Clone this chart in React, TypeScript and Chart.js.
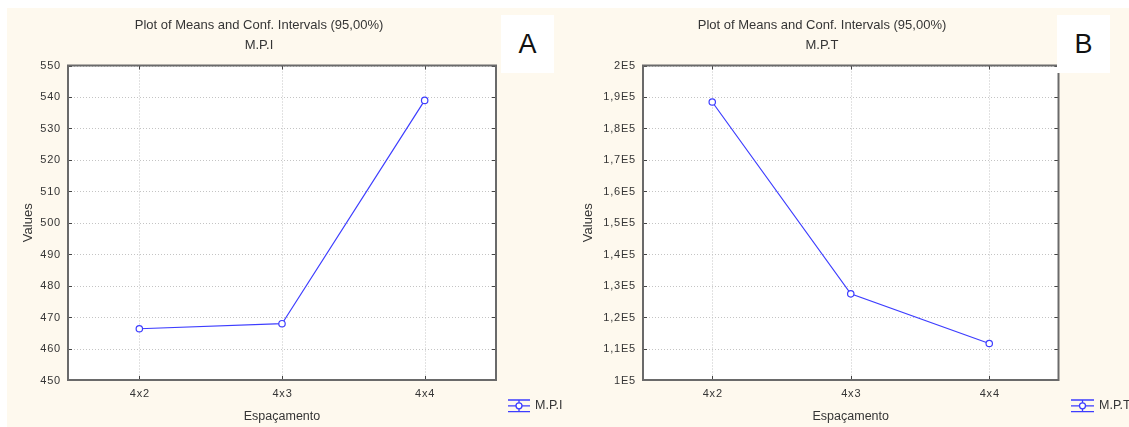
import React, { useEffect, useRef } from 'react';
import { Chart, registerables } from 'chart.js';

Chart.register(...registerables);

// ---- data ----
const categories = ['4x2', '4x3', '4x4'];
const mpiValues = [466.3, 467.9, 538.9];
const mptValues = [188400, 127400, 111600];
const yTicksA = [450, 460, 470, 480, 490, 500, 510, 520, 530, 540, 550];
const yTickLabelsA = ['450', '460', '470', '480', '490', '500', '510', '520', '530', '540', '550'];
const yTicksB = [100000, 110000, 120000, 130000, 140000, 150000, 160000, 170000, 180000, 190000, 200000];
const yTickLabelsB = ['1E5', '1,1E5', '1,2E5', '1,3E5', '1,4E5', '1,5E5', '1,6E5', '1,7E5', '1,8E5', '1,9E5', '2E5'];
const chartTitle = 'Plot of Means and Conf. Intervals (95,00%)';
const xAxisTitle = 'Espaçamento';
const yAxisTitle = 'Values';
const seriesNameA = 'M.P.I';
const seriesNameB = 'M.P.T';

const W = 1129;
const H = 427;
const LINE = '#3d3dff';
const TEXT = '#353535';
const FONT = "'Liberation Sans', Arial, sans-serif";

type Panel = {
  area: { left: number; right: number; top: number; bottom: number };
  titleX: number;
  series: string;
  values: number[];
  ticks: number[];
  tickLabels: string[];
  yTitleX: number;
  legendX0: number;
  legendX1: number;
  legendTextX: number;
};

const panelA: Panel = {
  area: { left: 68, right: 496, top: 65.5, bottom: 380 },
  titleX: 259,
  series: seriesNameA,
  values: mpiValues,
  ticks: yTicksA,
  tickLabels: yTickLabelsA,
  yTitleX: 28,
  legendX0: 508,
  legendX1: 530,
  legendTextX: 535,
};

const panelB: Panel = {
  area: { left: 643, right: 1058.5, top: 65.5, bottom: 380 },
  titleX: 822,
  series: seriesNameB,
  values: mptValues,
  ticks: yTicksB,
  tickLabels: yTickLabelsB,
  yTitleX: 588,
  legendX0: 1071,
  legendX1: 1094,
  legendTextX: 1099,
};

const Y_AXIS_W = 40;
const X_AXIS_H = 20;

function makePlugin(p: Panel) {
  return {
    id: 'panelDeco',
    beforeDatasetsDraw(chart: any) {
      const ctx = chart.ctx as CanvasRenderingContext2D;
      const { left, right, top, bottom } = chart.chartArea;
      const xs = chart.scales.x;
      const ys = chart.scales.y;
      ctx.save();
      ctx.fillStyle = '#ffffff';
      ctx.fillRect(left, top, right - left, bottom - top);
      // dotted grid
      ctx.strokeStyle = '#c4c4c4';
      ctx.lineWidth = 1;
      ctx.setLineDash([1, 2]);
      p.ticks.forEach((t) => {
        const y = Math.round(ys.getPixelForValue(t)) + 0.5;
        ctx.beginPath();
        ctx.moveTo(left, y);
        ctx.lineTo(right, y);
        ctx.stroke();
      });
      categories.forEach((_, i) => {
        const x = Math.round(xs.getPixelForValue(i)) + 0.5;
        ctx.beginPath();
        ctx.moveTo(x, top);
        ctx.lineTo(x, bottom);
        ctx.stroke();
      });
      ctx.setLineDash([]);
      // inward ticks
      ctx.strokeStyle = '#444';
      ctx.lineWidth = 1;
      p.ticks.forEach((t) => {
        const y = Math.round(ys.getPixelForValue(t)) + 0.5;
        ctx.beginPath();
        ctx.moveTo(left, y);
        ctx.lineTo(left + 4, y);
        ctx.moveTo(right, y);
        ctx.lineTo(right - 4, y);
        ctx.stroke();
      });
      categories.forEach((_, i) => {
        const x = Math.round(xs.getPixelForValue(i)) + 0.5;
        ctx.beginPath();
        ctx.moveTo(x, top);
        ctx.lineTo(x, top + 4);
        ctx.moveTo(x, bottom);
        ctx.lineTo(x, bottom - 4);
        ctx.stroke();
      });
      // border
      ctx.strokeStyle = '#6a6a6a';
      ctx.lineWidth = 2;
      ctx.strokeRect(left, top, right - left, bottom - top);
      ctx.restore();
    },
    afterDraw(chart: any) {
      const ctx = chart.ctx as CanvasRenderingContext2D;
      const { left, right, top, bottom } = chart.chartArea;
      const xs = chart.scales.x;
      const ys = chart.scales.y;
      ctx.save();
      ctx.fillStyle = TEXT;
      // titles
      ctx.textAlign = 'center';
      ctx.textBaseline = 'middle';
      ctx.font = `13px ${FONT}`;
      ctx.fillText(chartTitle, p.titleX, 25);
      ctx.fillText(p.series, p.titleX, 45);
      // y tick labels
      (ctx as any).letterSpacing = '0.8px';
      ctx.font = `11px ${FONT}`;
      ctx.textAlign = 'right';
      p.ticks.forEach((t, i) => {
        ctx.fillText(p.tickLabels[i], left - 7, ys.getPixelForValue(t) + 0.5);
      });
      // x tick labels
      ctx.textAlign = 'center';
      categories.forEach((c, i) => {
        ctx.fillText(c, xs.getPixelForValue(i) + 0.5, 393.5);
      });
      (ctx as any).letterSpacing = '0px';
      // axis titles
      ctx.font = `12.5px ${FONT}`;
      ctx.fillText(xAxisTitle, (left + right) / 2, 416.5);
      ctx.save();
      ctx.translate(p.yTitleX, (top + bottom) / 2);
      ctx.rotate(-Math.PI / 2);
      ctx.font = `13px ${FONT}`;
      ctx.fillText(yAxisTitle, 0, 0);
      ctx.restore();
      // legend
      const cy = 405.8;
      const x0 = p.legendX0;
      const x1 = p.legendX1;
      const cx = (x0 + x1) / 2;
      ctx.strokeStyle = LINE;
      ctx.lineWidth = 1.3;
      ctx.beginPath();
      ctx.moveTo(x0, 400);
      ctx.lineTo(x1, 400);
      ctx.moveTo(x0, 411.7);
      ctx.lineTo(x1, 411.7);
      ctx.moveTo(x0, cy);
      ctx.lineTo(x1, cy);
      ctx.moveTo(cx, 400);
      ctx.lineTo(cx, 411.7);
      ctx.stroke();
      ctx.beginPath();
      ctx.fillStyle = '#ffffff';
      ctx.arc(cx, cy, 3, 0, Math.PI * 2);
      ctx.fill();
      ctx.stroke();
      ctx.fillStyle = TEXT;
      ctx.textAlign = 'left';
      ctx.font = `12.5px ${FONT}`;
      ctx.fillText(p.series, p.legendTextX, 405.5);
      ctx.restore();
    },
  };
}

function PanelChart({ p }: { p: Panel }) {
  const ref = useRef<HTMLCanvasElement | null>(null);
  useEffect(() => {
    if (!ref.current) return;
    const zeroPad = (s: any) => {
      s.paddingTop = 0;
      s.paddingBottom = 0;
      s.paddingLeft = 0;
      s.paddingRight = 0;
    };
    const chart = new Chart(ref.current, {
      type: 'line',
      data: {
        labels: categories,
        datasets: [
          {
            label: p.series,
            data: p.values,
            borderColor: LINE,
            borderWidth: 1.2,
            pointRadius: 3.2,
            pointBorderWidth: 1.2,
            pointBackgroundColor: '#ffffff',
            pointBorderColor: LINE,
            tension: 0,
            clip: false as any,
          },
        ],
      },
      options: {
        animation: false,
        responsive: false,
        events: [],
        layout: {
          padding: {
            left: p.area.left - Y_AXIS_W,
            right: W - p.area.right,
            top: p.area.top,
            bottom: H - p.area.bottom - X_AXIS_H,
          },
        },
        plugins: {
          legend: { display: false },
          title: { display: false },
          tooltip: { enabled: false },
        },
        scales: {
          x: {
            type: 'category',
            offset: true,
            grid: { display: false },
            border: { display: false },
            ticks: { display: false },
            afterFit: (s: any) => {
              s.height = X_AXIS_H;
              zeroPad(s);
            },
          },
          y: {
            type: 'linear',
            min: p.ticks[0],
            max: p.ticks[p.ticks.length - 1],
            grid: { display: false },
            border: { display: false },
            ticks: { display: false },
            afterFit: (s: any) => {
              s.width = Y_AXIS_W;
              zeroPad(s);
            },
          },
        },
      },
      plugins: [makePlugin(p)],
    });
    return () => chart.destroy();
  }, [p]);
  return (
    <canvas
      ref={ref}
      width={W}
      height={H}
      style={{ position: 'absolute', left: 0, top: 0, width: W, height: H }}
    />
  );
}

const boxStyle = (left: number, width: number): React.CSSProperties => ({
  position: 'absolute',
  left,
  top: 15,
  width,
  height: 58,
  background: '#ffffff',
  display: 'flex',
  alignItems: 'center',
  justifyContent: 'center',
  fontFamily: FONT,
  fontSize: 27,
  color: '#111',
  lineHeight: 1,
});

export default function App() {
  return (
    <div
      style={{
        position: 'absolute',
        left: 0,
        top: 0,
        width: W,
        height: H,
        background: '#ffffff',
        overflow: 'hidden',
      }}
    >
      <div
        style={{
          position: 'absolute',
          left: 7,
          top: 8,
          width: W - 7,
          height: H - 8,
          background: '#fef9ee',
        }}
      />
      <PanelChart p={panelA} />
      <PanelChart p={panelB} />
      <div style={boxStyle(501, 53)}>A</div>
      <div style={boxStyle(1057, 53)}>B</div>
    </div>
  );
}
